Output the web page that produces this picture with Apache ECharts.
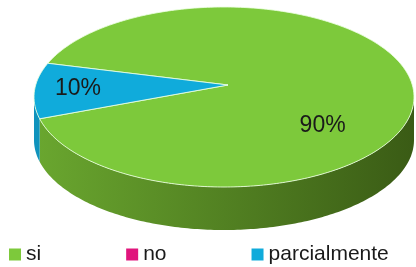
<!DOCTYPE html>
<html>
<head>
<meta charset="utf-8">
<script src="https://cdn.jsdelivr.net/npm/echarts@6/dist/echarts.min.js"></script>
<style>html,body{margin:0;background:#fff}#main{width:416px;height:267px}</style>
</head>
<body>
<div id="main"></div>
<script>
var categories = ['si', 'no', 'parcialmente'];
var values = [90, 0, 10];
var labels = ['90%', '0%', '10%'];

// colours: top face, side (left -> right)
var topColors = ['#7dc93b', '#e0157c', '#10abdb'];
var sideColors = [['#6aa72f', '#3a5b15'], ['#a80f5b', '#700a3c'], ['#0f93bd', '#0a6a8a']];
// label placement: fraction from apex to rim, extra y shift
var labelPlace = [[0.51, 31], [0.6, 0], [0.775, -1]];

var cx = 224, cy = 97, rx = 190, ry = 90, depth = 43;
var apexDx = 4, apexDy = -12;
var startAngle = 158;
var total = values.reduce(function (a, b) { return a + b; }, 0);

function pt(a, dy) {
    var r = a * Math.PI / 180;
    return [cx + rx * Math.cos(r), cy - ry * Math.sin(r) + (dy || 0)];
}
function arc(a1, a2, dy) {
    var pts = [], n = Math.max(2, Math.ceil(Math.abs(a2 - a1)));
    for (var i = 0; i <= n; i++) pts.push(pt(a1 + (a2 - a1) * i / n, dy));
    return pts;
}

function renderSlice(params, api) {
    var i = params.seriesIndex;
    var v = api.value(0);
    if (!v) return;
    var before = 0;
    for (var j = 0; j < i; j++) before += values[j];
    var a1 = startAngle - before / total * 360;
    var a2 = a1 - v / total * 360;
    var children = [];

    // side wall, only the front half
    for (var k = -1; k <= 1; k++) {
        var lo = Math.max(a2, -180 + 360 * k), hi = Math.min(a1, 360 * k);
        if (hi > lo) {
            children.push({
                type: 'polygon', z2: 0,
                shape: { points: arc(lo, hi, 0).concat(arc(hi, lo, depth)) },
                style: {
                    fill: {
                        type: 'linear', global: true,
                        x: cx - rx, y: 0, x2: cx + rx, y2: 0,
                        colorStops: [
                            { offset: 0, color: sideColors[i][0] },
                            { offset: 1, color: sideColors[i][1] }
                        ]
                    },
                    stroke: null
                }
            });
        }
    }

    // top face
    var apex = [cx + apexDx, cy + apexDy];
    children.push({
        type: 'polygon', z2: 10,
        shape: { points: [apex].concat(arc(a1, a2, 0)) },
        style: { fill: topColors[i], stroke: 'rgba(235,255,225,0.85)', lineWidth: 1 }
    });

    // label
    var mid = pt((a1 + a2) / 2, 0);
    var f = labelPlace[i][0];
    children.push({
        type: 'text', z2: 20,
        style: {
            text: labels[i],
            x: apex[0] + f * (mid[0] - apex[0]),
            y: apex[1] + f * (mid[1] - apex[1]) + labelPlace[i][1],
            fill: '#1a1a1a',
            font: '23px "Liberation Sans", Arial, sans-serif',
            align: 'center', verticalAlign: 'middle'
        }
    });
    return { type: 'group', children: children };
}

var chart = echarts.init(document.getElementById('main'));
var series = categories.map(function (name, i) {
    return {
        name: name,
        type: 'custom',
        coordinateSystem: 'none',
        renderItem: renderSlice,
        itemStyle: { color: topColors[i] },
        silent: true,
        data: [[values[i]]]
    };
});

chart.setOption({
    animation: false,
    legend: {
        data: categories,
        left: 9,
        top: 244,
        padding: 0,
        icon: 'rect',
        itemWidth: 12,
        itemHeight: 12,
        itemGap: 85,
        selectedMode: false,
        textStyle: { fontSize: 21, fontFamily: 'Liberation Sans', color: '#1a1a1a' }
    },
    series: series
});
</script>
</body>
</html>
